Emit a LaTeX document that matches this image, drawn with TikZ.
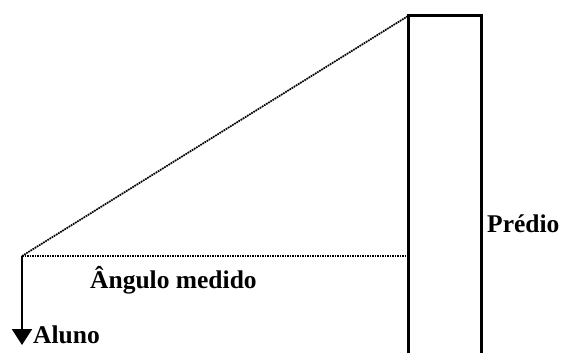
\documentclass[tikz,border=0pt]{standalone}
\usepackage{fontspec}
\setmainfont{Liberation Serif}
\usetikzlibrary{arrows.meta,positioning}

\begin{document}
\begin{tikzpicture}[
  x=1pt, y=-1pt,
  font=\fontsize{25.5}{30}\selectfont\bfseries,
  lbl/.style={inner sep=0pt, anchor=base west},
  sight/.style={line width=1.7pt, dash pattern=on 1.7pt off 0.8pt},
  wall/.style={line width=3pt},
  arr/.style={-{Triangle[length=16pt,width=20pt]}, line width=2.2pt}
]
\useasboundingbox (0,0) rectangle (561,353);
% building
\coordinate (bl) at (408,353);
\coordinate (tl) at (408,16);
\coordinate (tr) at (481,16);
\coordinate (br) at (481,353);
\draw[wall] (bl) -- (tl) -- (tr) -- (br);
% observer
\coordinate (eye) at (22,256);
\coordinate (foot) at (22,345);
\coordinate (base) at (408,256);
\draw[sight] (eye) -- (tl);
\draw[sight] (eye) -- (base);
\draw[arr] (eye) -- (foot);
% labels
\node[lbl] (al) at (33,343) {Aluno};
\node[lbl] (ang) at (90,288) {Ângulo medido};
\node[lbl] (pr) at (487,232) {Prédio};
\end{tikzpicture}
\end{document}
